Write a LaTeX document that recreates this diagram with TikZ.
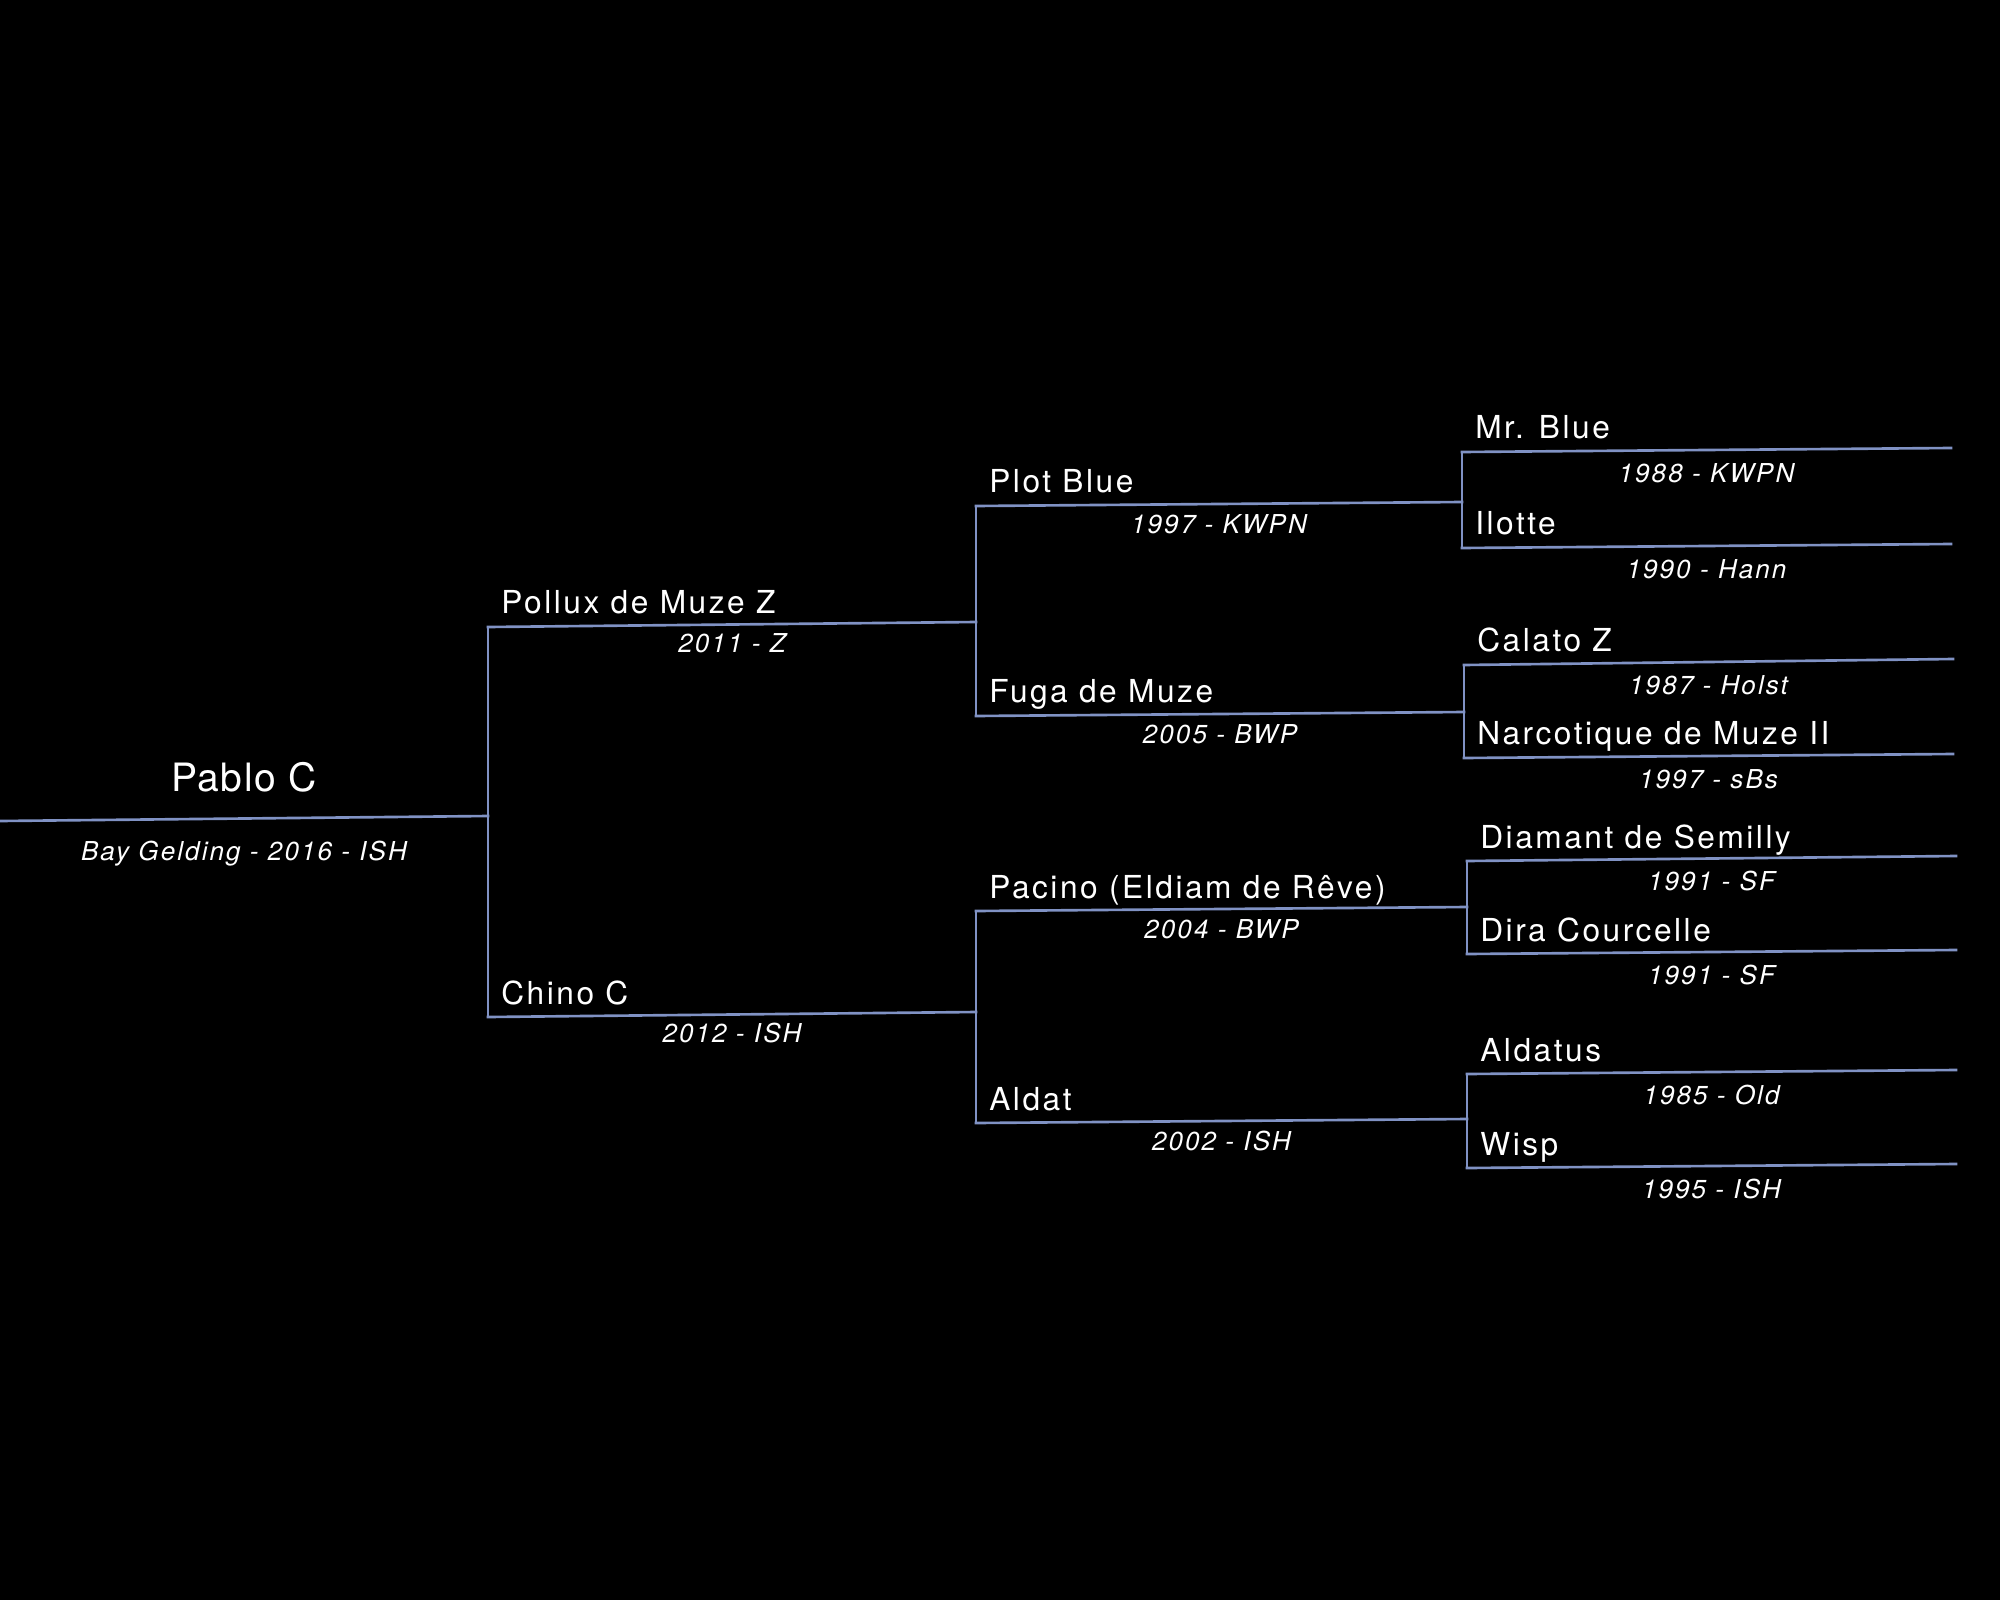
\documentclass[tikz,border=0pt]{standalone}
\usepackage{fontspec}
\setmainfont{TeX Gyre Heros}
\newfontfamily\namefont[LetterSpace=8]{TeX Gyre Heros}
\newfontfamily\rootfont[LetterSpace=4]{TeX Gyre Heros}
\newfontfamily\infofont[LetterSpace=8]{TeX Gyre Heros}
\usetikzlibrary{positioning}
\definecolor{pedline}{RGB}{128,146,196}

\begin{document}
\begin{tikzpicture}[x=0.01cm,y=-0.01cm,
  tree/.style={draw=pedline,line width=0.75pt,line cap=rect},
  horse/.style={anchor=base west,text=white,inner sep=0pt,
    font=\namefont\fontsize{9pt}{10pt}\selectfont,xshift=0.12cm,yshift=0.13cm},
  root/.style={anchor=base,text=white,inner sep=0pt,
    font=\rootfont\fontsize{11.1pt}{13pt}\selectfont,yshift=0.265cm},
  info/.style={anchor=base,text=white,inner sep=0pt,
    font=\infofont\itshape\fontsize{7.4pt}{9pt}\selectfont,yshift=-#1}]
\useasboundingbox (0,0) rectangle (2000,1600);
\fill[black] (0,0) rectangle (2000,1600);

\coordinate (pabloL) at (0,821);
\coordinate (pabloR) at (488,816);
\coordinate (polluxL) at (488,627);
\coordinate (polluxR) at (976,622);
\coordinate (chinoL) at (488,1017);
\coordinate (chinoR) at (976,1012);
\coordinate (plotL) at (976,506);
\coordinate (plotR) at (1462,502);
\coordinate (fugaL) at (976,716);
\coordinate (fugaR) at (1464,712);
\coordinate (pacinoL) at (976,911);
\coordinate (pacinoR) at (1467,907);
\coordinate (aldatL) at (976,1123);
\coordinate (aldatR) at (1467,1119);
\coordinate (mrblueL) at (1462,452);
\coordinate (mrblueR) at (1951,448);
\coordinate (ilotteL) at (1462,548);
\coordinate (ilotteR) at (1951,544);
\coordinate (calatoL) at (1464,665);
\coordinate (calatoR) at (1953,659);
\coordinate (narcL) at (1464,758);
\coordinate (narcR) at (1953,754);
\coordinate (diamantL) at (1467,861);
\coordinate (diamantR) at (1956,856);
\coordinate (diraL) at (1467,954);
\coordinate (diraR) at (1956,950);
\coordinate (aldatusL) at (1467,1074);
\coordinate (aldatusR) at (1956,1070);
\coordinate (wispL) at (1467,1168);
\coordinate (wispR) at (1956,1164);

\draw[tree] (pabloL) -- (pabloR) node[midway,root](pablo){Pablo C}
  node[midway,info=0.415cm](pabloinfo){Bay Gelding - 2016 - ISH};

\draw[tree] (polluxL) -- (polluxR) node[pos=0,horse](pollux){Pollux de Muze Z}
  node[midway,info=0.28cm](polluxinfo){2011 - Z};
\draw[tree] (chinoL) -- (chinoR) node[pos=0,horse](chino){Chino C}
  node[midway,info=0.28cm](chinoinfo){2012 - ISH};
\draw[tree] (polluxL) -- (chinoL);

\draw[tree] (plotL) -- (plotR) node[pos=0,horse](plot){Plot Blue}
  node[midway,info=0.29cm](plotinfo){1997 - KWPN};
\draw[tree] (fugaL) -- (fugaR) node[pos=0,horse](fuga){Fuga de Muze}
  node[midway,info=0.29cm](fugainfo){2005 - BWP};
\draw[tree] (pacinoL) -- (pacinoR) node[pos=0,horse](pacino){Pacino (Eldiam de Rêve)}
  node[midway,info=0.29cm](pacinoinfo){2004 - BWP};
\draw[tree] (aldatL) -- (aldatR) node[pos=0,horse](aldat){Aldat}
  node[midway,info=0.29cm](aldatinfo){2002 - ISH};
\draw[tree] (plotL) -- (fugaL);
\draw[tree] (pacinoL) -- (aldatL);

\draw[tree] (mrblueL) -- (mrblueR) node[pos=0,horse](mrblue){Mr. Blue}
  node[midway,info=0.32cm](mrblueinfo){1988 - KWPN};
\draw[tree] (ilotteL) -- (ilotteR) node[pos=0,horse](ilotte){Ilotte}
  node[midway,info=0.32cm](ilotteinfo){1990 - Hann};
\draw[tree] (calatoL) -- (calatoR) node[pos=0,horse](calato){Calato Z}
  node[midway,info=0.32cm](calatoinfo){1987 - Holst};
\draw[tree] (narcL) -- (narcR) node[pos=0,horse](narc){Narcotique de Muze II}
  node[midway,info=0.32cm](narcinfo){1997 - sBs};
\draw[tree] (diamantL) -- (diamantR) node[pos=0,horse](diamant){Diamant de Semilly}
  node[midway,info=0.32cm](diamantinfo){1991 - SF};
\draw[tree] (diraL) -- (diraR) node[pos=0,horse](dira){Dira Courcelle}
  node[midway,info=0.32cm](direinfo){1991 - SF};
\draw[tree] (aldatusL) -- (aldatusR) node[pos=0,horse](aldatus){Aldatus}
  node[midway,info=0.32cm](aldatusinfo){1985 - Old};
\draw[tree] (wispL) -- (wispR) node[pos=0,horse](wisp){Wisp}
  node[midway,info=0.32cm](wispinfo){1995 - ISH};
\draw[tree] (mrblueL) -- (ilotteL);
\draw[tree] (calatoL) -- (narcL);
\draw[tree] (diamantL) -- (diraL);
\draw[tree] (aldatusL) -- (wispL);
\end{tikzpicture}
\end{document}
